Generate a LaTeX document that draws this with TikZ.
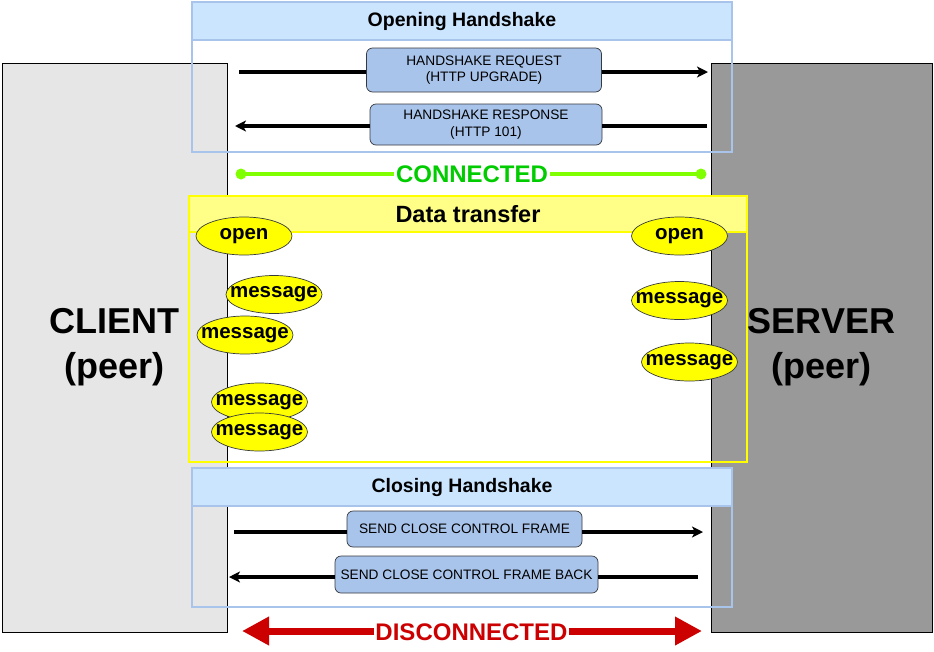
\documentclass[tikz,border=0pt]{standalone}
\usepackage{fontspec}
\setmainfont{Liberation Sans}
\usetikzlibrary{arrows.meta,shapes.geometric}
\definecolor{clientgray}{HTML}{E6E6E6}
\definecolor{servergray}{HTML}{999999}
\definecolor{hdrblue}{HTML}{CCE5FF}
\definecolor{frameblue}{HTML}{A9C4EB}
\definecolor{boxblue}{HTML}{A9C4EB}
\definecolor{darkline}{HTML}{36393D}
\definecolor{hdryellow}{HTML}{FFFF88}
\definecolor{frameyellow}{HTML}{FFFF00}
\definecolor{connline}{HTML}{80FF00}
\definecolor{conntext}{HTML}{00CC00}
\definecolor{discred}{HTML}{CC0000}
\newcommand\evtext[1]{\makebox[0pt]{#1}}
\begin{document}
\begin{tikzpicture}[x=1pt,y=-1pt,
  peer/.style={draw=black, line width=0.8pt, inner sep=0, align=center,
    font=\bfseries\fontsize{36}{45}\selectfont},
  hdr/.style={draw=frameblue, fill=hdrblue, line width=1.2pt, minimum width=540,
    minimum height=38, inner sep=0, font=\bfseries\fontsize{19.5}{20}\selectfont},
  frm/.style={draw=frameblue, line width=1.2pt, minimum width=540, inner sep=0},
  lbl/.style={draw=darkline, fill=boxblue, rounded corners=6pt, line width=0.7pt,
    inner sep=0, align=center, font=\fontsize{13.7}{16.5}\selectfont},
  plain/.style={draw=black, line width=3.2pt},
  flow/.style={draw=black, line width=3.2pt, -{Stealth[length=11pt,width=11pt,inset=3pt]}},
  msg/.style={ellipse, draw=darkline, fill=frameyellow, line width=0.7pt,
    minimum width=96, minimum height=38, inner sep=0,
    font=\bfseries\fontsize{20.5}{20}\selectfont},
]
\useasboundingbox (0,0) rectangle (934,651);
\fill[white] (0,0) rectangle (934,651);

% peers
\node[peer, fill=clientgray, minimum width=225, minimum height=569] (client) at (114.5,347.5) {CLIENT\\(peer)};
\node[peer, fill=servergray, minimum width=221, minimum height=569] (server) at (821.5,347.5) {SERVER\\(peer)};

% opening handshake
\node[frm, minimum height=150] (openfrm) at (462,77) {};
\node[hdr] (openhdr) at (462,21) {Opening Handshake};

% data transfer
\node[draw=frameyellow, line width=2.5pt, minimum width=558, minimum height=265, inner sep=0] (datafrm) at (468,329.5) {};
\node[draw=frameyellow, fill=hdryellow, line width=2.5pt, minimum width=558, minimum height=36, inner sep=0,
  font=\bfseries\fontsize{23.5}{24}\selectfont] (datahdr) at (468,214) {Data transfer};

% closing handshake
\node[frm, minimum height=139] (closefrm) at (462,537.5) {};
\node[hdr] (closehdr) at (462,487) {Closing Handshake};

% message boxes
\node[lbl, minimum width=235, minimum height=44] (req) at (484,70) {HANDSHAKE REQUEST\\(HTTP UPGRADE)};
\node[lbl, minimum width=232, minimum height=41] (resp) at (486,124.5) {HANDSHAKE RESPONSE\\(HTTP 101)};
\node[lbl, minimum width=235, minimum height=36] (cls) at (464.5,529) {SEND CLOSE CONTROL FRAME};
\node[lbl, minimum width=263, minimum height=37] (clsb) at (466.5,574.5) {SEND CLOSE CONTROL FRAME BACK};

\coordinate (reqA) at (239,72);  \coordinate (reqB) at (708,72);
\coordinate (respA) at (707,126); \coordinate (respB) at (235,126);
\coordinate (clsA) at (234,532);  \coordinate (clsB) at (703,532);
\coordinate (clsbA) at (698,577); \coordinate (clsbB) at (229,577);

\draw[plain] (reqA) -- (req.west |- reqA);
\draw[flow] (req.east |- reqA) -- (reqB);
\draw[plain] (respA) -- (resp.east |- respA);
\draw[flow] (resp.west |- respA) -- (respB);
\draw[plain] (clsA) -- (cls.west |- clsA);
\draw[flow] (cls.east |- clsA) -- (clsB);
\draw[plain] (clsbA) -- (clsb.east |- clsbA);
\draw[flow] (clsb.west |- clsbA) -- (clsbB);

% connected
\coordinate (c1) at (241,174); \coordinate (c2) at (701,174);
\node[text=conntext, inner sep=2pt, font=\bfseries\fontsize{24}{24}\selectfont] (conn) at (472,174) {CONNECTED};
\draw[connline, line width=3.6pt] (c1) -- (conn.west);
\draw[connline, line width=3.6pt] (conn.east) -- (c2);
\fill[connline] (c1) circle (5.5pt);
\fill[connline] (c2) circle (5.5pt);

% events
\node[msg] (openL) at (244,236) {\evtext{open}};
\node[msg] (openR) at (679.5,236) {\evtext{open}};
\node[msg] (m1) at (274,294.5) {\evtext{message}};
\node[msg] (m2) at (245,335) {\evtext{message}};
\node[msg] (m3) at (259.5,402) {\evtext{message}};
\node[msg] (m4) at (259.5,432) {\evtext{message}};
\node[msg] (m5) at (679.5,300.5) {\evtext{message}};
\node[msg] (m6) at (689.5,362) {\evtext{message}};

% disconnected
\coordinate (d1) at (242,631); \coordinate (d2) at (702,631);
\node[text=discred, inner sep=1pt, font=\bfseries\fontsize{24}{24}\selectfont] (disc) at (471.5,632) {DISCONNECTED};
\draw[discred, line width=7pt, -{Triangle[length=27pt,width=27pt]}] (disc.west |- d1) -- (d1);
\draw[discred, line width=7pt, -{Triangle[length=27pt,width=27pt]}] (disc.east |- d2) -- (d2);
\end{tikzpicture}
\end{document}
